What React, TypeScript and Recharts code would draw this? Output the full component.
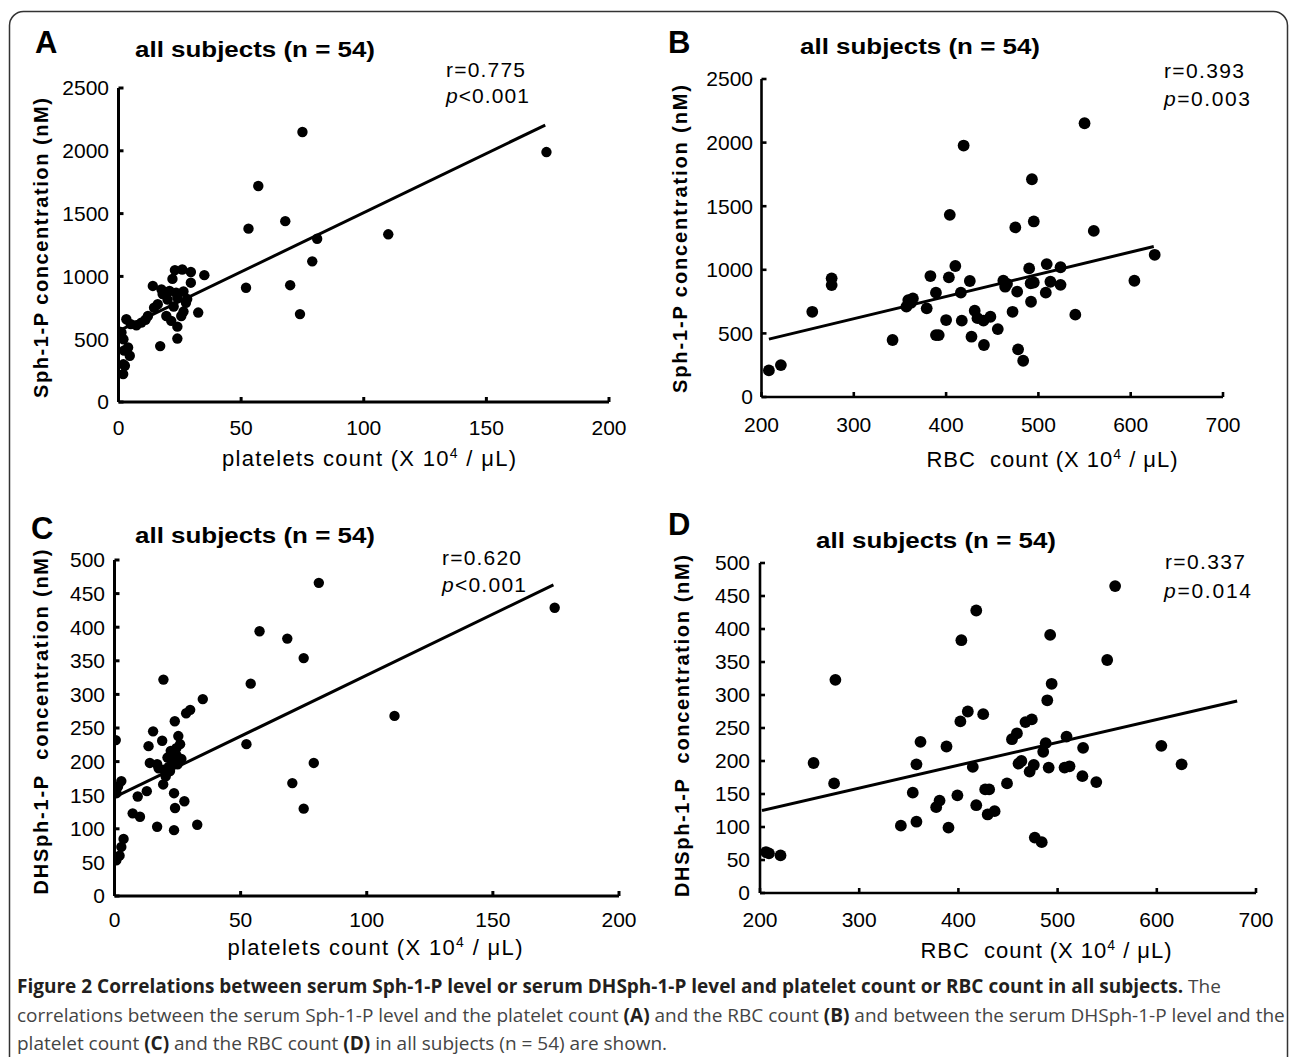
import React from "react";
import { ScatterChart, Scatter, XAxis, YAxis, ReferenceLine } from "recharts";

const FONT = '"Liberation Sans", Arial, Helvetica, sans-serif';
const CAPTION_FONT = '"Open Sans", "Noto Sans", sans-serif';

// A: platelets count vs Sph-1-P
const plateletsA = [75, 174.5, 57, 68, 53, 110, 81, 79, 52, 70, 74, 35, 32.5, 17, 24, 24, 23, 26, 29.5, 29.5, 22, 14, 17.5, 20.8, 23.5, 26.5, 20, 16, 14.5, 12, 9.3, 7.3, 3.2, 1.2, 2, 3.9, 4.6, 2.6, 1.9, 19.5, 21.5, 25.6, 26.5, 27.5, 24, 18, 0.5, 1, 2.3, 2, 11, 22.5, 28, 5];
const sphA = [2150, 1990, 1720, 1440, 1380, 1335, 1300, 1120, 910, 930, 700, 1010, 712, 445, 505, 600, 1050, 1055, 1035, 950, 980, 924, 897, 884, 870, 880, 815, 778, 750, 685, 632, 611, 659, 553, 500, 434, 368, 289, 222, 685, 646, 685, 720, 790, 830, 860, 560, 520, 410, 300, 655, 760, 820, 620];
const trendA = [{ x: 0.5, y: 570 }, { x: 174, y: 2205 }];

// B: RBC count vs Sph-1-P
const rbcB = [208, 221, 255, 276, 276, 342, 357, 359, 362, 364, 379, 383, 389, 389, 392, 400, 403, 404, 410, 416, 417, 419, 425.7, 427.5, 431, 434, 440.5, 441, 448, 456, 462, 464, 466, 472, 475, 477, 478, 483.5, 490, 491.6, 492, 493, 495, 495, 509, 508, 513, 524, 524, 540, 550, 560, 604, 626];
const sphB = [209, 251, 670, 933, 880, 448, 710, 762, 740, 775, 697, 951, 820, 487, 487, 605, 941, 1432, 1030, 820, 600, 1977, 912, 474, 678, 620, 600, 409, 631, 534, 914, 867, 890, 670, 1333, 828, 375, 285, 1011, 894, 749, 1712, 1380, 900, 1045, 820, 906, 1020, 882, 647, 2152, 1306, 914, 1118];
const trendB = [{ x: 208, y: 455 }, { x: 625, y: 1183 }];

// C: platelets count vs DHSph-1-P
const plateletsC = [81, 174.5, 57.5, 68.5, 75, 54, 35, 30, 28.4, 111, 19.4, 52.3, 79, 70.5, 75, 32.8, 16.9, 23.6, 0.5, 23.9, 15.3, 18.9, 13.5, 25.3, 26, 14, 16.9, 21, 22.3, 25, 19.6, 22, 20.3, 19.3, 23.6, 27.7, 24, 12.8, 9.2, 7.2, 10.1, 2.7, 1.4, 0.8, 3.6, 2.7, 2, 0.7, 23, 24.5, 21.5, 26.5, 17.5, 24.5];
const dhsphC = [466, 429, 394, 383, 354, 316, 293, 277, 272, 268, 322, 226, 198, 168, 130, 106, 103, 98, 232, 260, 245, 231, 223, 238, 226, 198, 196, 206, 216, 196, 188, 186, 178, 166, 153, 141, 131, 156, 148, 123, 118, 171, 163, 153, 85, 73, 60, 53, 200, 210, 192, 204, 190, 220];
const trendC = [{ x: 0, y: 147 }, { x: 174, y: 463 }];

// D: RBC count vs DHSph-1-P
const rbcD = [206, 209, 220.7, 254, 276, 274.7, 342, 354, 357.7, 357.7, 361.8, 377.6, 381, 388, 390, 399, 402, 403, 409.5, 414.5, 418, 418, 425, 427, 431, 429.5, 436.5, 449, 454, 459, 460.6, 463.5, 467.6, 474, 471.8, 476, 477, 484, 485.5, 488, 489.6, 491, 492.5, 494, 507, 512, 509, 525.7, 525, 539, 550, 558, 604.6, 625];
const dhsphD = [62, 60, 57, 197, 323, 166, 102, 152, 108, 195, 229, 130, 140, 222, 99, 148, 260, 383, 275, 191, 133, 428, 271, 157, 157, 119, 124, 166, 233, 242, 196, 200, 259, 263, 184, 194, 84, 77, 214, 227, 292, 190, 391, 317, 190, 192, 237, 220, 177, 168, 353, 465, 223, 195];
const trendD = [{ x: 202, y: 125 }, { x: 681, y: 291 }];

const plateletTicks = [0, 50, 100, 150, 200];
const rbcTicks = [200, 300, 400, 500, 600, 700];
const sphTicks = [0, 500, 1000, 1500, 2000, 2500];
const dhsphTicks = [0, 50, 100, 150, 200, 250, 300, 350, 400, 450, 500];

const zip = (xs: number[], ys: number[]) => xs.map((x, i) => ({ x, y: ys[i] }));

type PanelProps = {
  left: number;
  top: number;
  plot: { left: number; top: number; right: number; bottom: number };
  xDomain: [number, number];
  xTicks: number[];
  yDomain: [number, number];
  yTicks: number[];
  points: { x: number; y: number }[];
  trend: { x: number; y: number }[];
  dot: number;
  stroke: number;
  xGap: number;
  yGap: number;
};

const W = 645;
const H = 480;

function Panel({ left, top, plot, xDomain, xTicks, yDomain, yTicks, points, trend, dot, stroke, xGap, yGap }: PanelProps) {
  const axis = { stroke: "#000", strokeWidth: stroke };
  const tick = { fill: "#000", fontSize: 21, fontFamily: FONT };
  return (
    <div style={{ position: "absolute", left, top, width: W, height: H }}>
      <ScatterChart
        width={W}
        height={H}
        margin={{ top: plot.top, right: W - plot.right, bottom: 0, left: 0 }}
      >
        <XAxis
          type="number"
          dataKey="x"
          domain={xDomain}
          ticks={xTicks}
          interval={0}
          height={H - plot.bottom}
          tickSize={-5}
          tickMargin={xGap + 5}
          axisLine={axis}
          tickLine={axis}
          tick={tick}
          allowDataOverflow
        />
        <YAxis
          type="number"
          dataKey="y"
          domain={yDomain}
          ticks={yTicks}
          interval={0}
          width={plot.left}
          tickSize={-5}
          tickMargin={yGap + 5}
          axisLine={axis}
          tickLine={axis}
          tick={tick}
          allowDataOverflow
        />
        <ReferenceLine segment={trend} stroke="#000" strokeWidth={3} ifOverflow="visible" />
        <Scatter
          data={points}
          fill="#000"
          isAnimationActive={false}
          shape={(p: any) => <circle cx={p.cx} cy={p.cy} r={dot} fill="#000" />}
        />
      </ScatterChart>
    </div>
  );
}

function Labels() {
  const bold = { fontFamily: FONT, fontWeight: 700, fill: "#000" } as const;
  const reg = { fontFamily: FONT, fill: "#000" } as const;
  const sup = (
    <>
      <tspan dy={-8} fontSize={14}>4</tspan>
      <tspan dy={8}> / μL)</tspan>
    </>
  );
  const title = (x: number, y: number) => (
    <text x={x} y={y} fontSize={22} textLength={240} lengthAdjust="spacingAndGlyphs" {...bold}>
      all subjects (n = 54)
    </text>
  );
  return (
    <svg
      width={1290}
      height={1057}
      style={{ position: "absolute", left: 0, top: 0, pointerEvents: "none" }}
    >
      <rect x={9.5} y={11.5} width={1278} height={1100} rx={14} fill="none" stroke="#333" strokeWidth={1.5} />

      {/* panel A */}
      <text x={35} y={53} fontSize={31} {...bold}>A</text>
      {title(135, 57)}
      <text x={446} y={77} fontSize={21} textLength={79} {...reg}>r=0.775</text>
      <text x={446} y={103} fontSize={21} textLength={83} {...reg}><tspan fontStyle="italic">p</tspan>&lt;0.001</text>
      <text transform="translate(48,248) rotate(-90)" textAnchor="middle" fontSize={20} textLength={300} {...bold}>Sph-1-P concentration (nM)</text>
      <text x={369} y={466} textAnchor="middle" fontSize={22} textLength={294} {...reg}>platelets count (X 10{sup}</text>

      {/* panel B */}
      <text x={668} y={53} fontSize={31} {...bold}>B</text>
      {title(800, 54)}
      <text x={1164} y={78} fontSize={21} textLength={80} {...reg}>r=0.393</text>
      <text x={1164} y={106} fontSize={21} textLength={86} {...reg}><tspan fontStyle="italic">p</tspan>=0.003</text>
      <text transform="translate(687,239) rotate(-90)" textAnchor="middle" fontSize={20} textLength={308} {...bold}>Sph-1-P concentration (nM)</text>
      <text x={1052} y={467} textAnchor="middle" fontSize={22} textLength={251} style={{ whiteSpace: "pre" }} {...reg}>RBC  count (X 10{sup}</text>

      {/* panel C */}
      <text x={31} y={539} fontSize={31} {...bold}>C</text>
      {title(135, 543)}
      <text x={442} y={565} fontSize={21} textLength={79} {...reg}>r=0.620</text>
      <text x={442} y={592} fontSize={21} textLength={84} {...reg}><tspan fontStyle="italic">p</tspan>&lt;0.001</text>
      <text transform="translate(48,722) rotate(-90)" textAnchor="middle" fontSize={20} textLength={345} style={{ whiteSpace: "pre" }} {...bold}>DHSph-1-P  concentration (nM)</text>
      <text x={375} y={955} textAnchor="middle" fontSize={22} textLength={295} {...reg}>platelets count (X 10{sup}</text>

      {/* panel D */}
      <text x={668} y={535} fontSize={31} {...bold}>D</text>
      {title(816, 548)}
      <text x={1165} y={569} fontSize={21} textLength={80} {...reg}>r=0.337</text>
      <text x={1164} y={598} fontSize={21} textLength={87} {...reg}><tspan fontStyle="italic">p</tspan>=0.014</text>
      <text transform="translate(689,726) rotate(-90)" textAnchor="middle" fontSize={20} textLength={342} style={{ whiteSpace: "pre" }} {...bold}>DHSph-1-P  concentration (nM)</text>
      <text x={1046} y={958} textAnchor="middle" fontSize={22} textLength={251} style={{ whiteSpace: "pre" }} {...reg}>RBC  count (X 10{sup}</text>

      {/* caption */}
      <g fontFamily={CAPTION_FONT} fontSize={19} fill="#444">
        <text x={17} y={993}>
          <tspan fontWeight={700} fill="#231f20">Figure 2 Correlations between serum Sph-1-P level or serum DHSph-1-P level and platelet count or RBC count in all subjects.</tspan>
          <tspan> The</tspan>
        </text>
        <text x={17} y={1022}>
          correlations between the serum Sph-1-P level and the platelet count <tspan fontWeight={700} fill="#231f20">(A)</tspan> and the RBC count <tspan fontWeight={700} fill="#231f20">(B)</tspan> and between the serum DHSph-1-P level and the
        </text>
        <text x={17} y={1050}>
          platelet count <tspan fontWeight={700} fill="#231f20">(C)</tspan> and the RBC count <tspan fontWeight={700} fill="#231f20">(D)</tspan> in all subjects (n = 54) are shown.
        </text>
      </g>
    </svg>
  );
}

export default function App() {
  return (
    <div style={{ position: "absolute", left: 0, top: 0, width: 1290, height: 1057, background: "#fff", overflow: "hidden" }}>
      <Panel
        left={0}
        top={0}
        plot={{ left: 118.5, top: 88, right: 609, bottom: 402 }}
        xDomain={[0, 200]}
        xTicks={plateletTicks}
        yDomain={[0, 2500]}
        yTicks={sphTicks}
        points={zip(plateletsA, sphA)}
        trend={trendA}
        dot={5.2}
        stroke={3}
        xGap={18}
        yGap={9.5}
      />
      <Panel
        left={645}
        top={0}
        plot={{ left: 116.5, top: 79, right: 578, bottom: 397 }}
        xDomain={[200, 700]}
        xTicks={rbcTicks}
        yDomain={[0, 2500]}
        yTicks={sphTicks}
        points={zip(rbcB, sphB)}
        trend={trendB}
        dot={5.9}
        stroke={2.6}
        xGap={20}
        yGap={8.5}
      />
      <Panel
        left={0}
        top={480}
        plot={{ left: 114.5, top: 80, right: 619, bottom: 416 }}
        xDomain={[0, 200]}
        xTicks={plateletTicks}
        yDomain={[0, 500]}
        yTicks={dhsphTicks}
        points={zip(plateletsC, dhsphC)}
        trend={trendC}
        dot={5.2}
        stroke={3}
        xGap={16}
        yGap={9.5}
      />
      <Panel
        left={645}
        top={480}
        plot={{ left: 115, top: 83, right: 611, bottom: 413 }}
        xDomain={[200, 700]}
        xTicks={rbcTicks}
        yDomain={[0, 500]}
        yTicks={dhsphTicks}
        points={zip(rbcD, dhsphD)}
        trend={trendD}
        dot={5.9}
        stroke={2.6}
        xGap={19}
        yGap={10}
      />
      <Labels />
    </div>
  );
}
